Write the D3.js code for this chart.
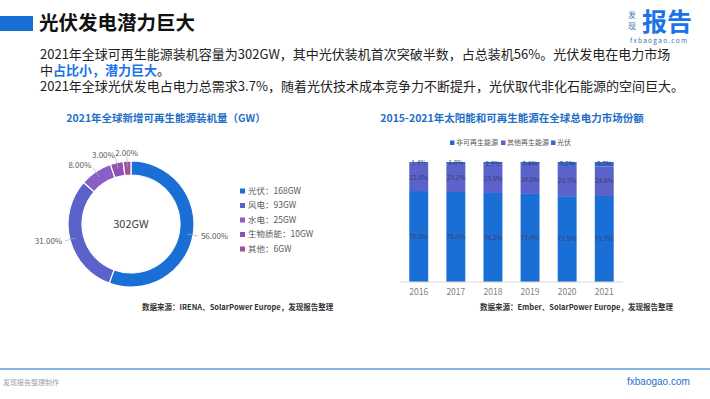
<!DOCTYPE html>
<html>
<head>
<meta charset="utf-8">
<script src="https://cdn.jsdelivr.net/npm/d3@7/dist/d3.min.js"></script>
<style>
  html, body { margin: 0; padding: 0; background: #fff; }
  svg { display: block; font-family: "Noto Sans CJK SC", "Noto Sans", sans-serif; }
</style>
</head>
<body>
<svg width="710" height="399"></svg>
<script>
// ---- data ----
var pieNames = ["光伏", "风电", "水电", "生物质能", "其他"];
var pieValues = [168, 93, 25, 10, 6];
var piePcts = ["56.00%", "31.00%", "8.00%", "3.00%", "2.00%"];
var pieTotal = "302GW";

var years = ["2016", "2017", "2018", "2019", "2020", "2021"];
var seriesNames = ["非可再生能源", "其他再生能源", "光伏"];
var nonRenew = [75.8, 75.0, 74.2, 73.4, 71.5, 71.7];
var otherRenew = [22.8, 23.2, 23.5, 24.0, 25.3, 24.6];
var solar = [1.4, 1.8, 2.3, 2.6, 3.2, 3.7];

var pieColors = ["#1a6fd6", "#5b62c9", "#8a5ec6", "#9150b5", "#a0509f"];
var barColors = ["#1a6fd6", "#5b62c9", "#3566cc"];

var svg = d3.select("svg");

// ---- header ----
svg.append("rect").attr("x", 0).attr("y", 16).attr("width", 33).attr("height", 15).attr("fill", "#1a6fd6");
svg.append("text").attr("x", 39).attr("y", 30).attr("font-size", 19.5).attr("font-weight", 700)
  .attr("fill", "#111").text("光伏发电潜力巨大");

// logo
svg.append("text").attr("x", 628).attr("y", 18).attr("font-size", 8).attr("fill", "#3a6fb0").text("发");
svg.append("text").attr("x", 628).attr("y", 29).attr("font-size", 8).attr("fill", "#3a6fb0").text("现");
svg.append("text").attr("x", 642).attr("y", 31).attr("font-size", 25).attr("font-weight", 700)
  .attr("fill", "#1a73e8").text("报告");
svg.append("text").attr("x", 630).attr("y", 43).attr("font-size", 6.5).attr("letter-spacing", 1.3)
  .attr("fill", "#3a6fb0").text("fxbaogao.com");

// paragraph
var para = svg.append("g").attr("font-size", 13).attr("fill", "#222");
para.append("text").attr("x", 40).attr("y", 59)
  .text("2021年全球可再生能源装机容量为302GW，其中光伏装机首次突破半数，占总装机56%。光伏发电在电力市场");
var l2 = para.append("text").attr("x", 40).attr("y", 75);
l2.append("tspan").text("中");
l2.append("tspan").attr("fill", "#1a73e8").attr("font-weight", 700).text("占比小，潜力巨大");
l2.append("tspan").text("。");
para.append("text").attr("x", 40).attr("y", 91)
  .text("2021年全球光伏发电占电力总需求3.7%，随着光伏技术成本竞争力不断提升，光伏取代非化石能源的空间巨大。");

// ---- donut ----
svg.append("text").attr("x", 166).attr("y", 122).attr("text-anchor", "middle")
  .attr("font-size", 10.5).attr("font-weight", 700).attr("fill", "#1f6fc6")
  .text("2021年全球新增可再生能源装机量（GW）");

var cx = 131, cy = 224, outerR = 63, innerR = 49, labelR = 71;
var pie = d3.pie().sort(null).value(function(d) { return d; });
var arcs = pie(pieValues);
var arc = d3.arc().innerRadius(innerR).outerRadius(outerR);
var donut = svg.append("g").attr("transform", "translate(" + cx + "," + cy + ")");

donut.selectAll("path.slice").data(arcs).enter().append("path")
  .attr("class", "slice")
  .attr("d", arc)
  .attr("fill", function(d, i) { return pieColors[i]; })
  .attr("stroke", "#fff").attr("stroke-width", 1.2);

function mid(d) { return (d.startAngle + d.endAngle) / 2; }
function pt(a, r) { return [Math.sin(a) * r, -Math.cos(a) * r]; }

donut.selectAll("line.lead").data(arcs).enter().append("line")
  .attr("x1", function(d) { return pt(mid(d), outerR - 6)[0]; })
  .attr("y1", function(d) { return pt(mid(d), outerR - 6)[1]; })
  .attr("x2", function(d) { return pt(mid(d), labelR - 3)[0]; })
  .attr("y2", function(d) { return pt(mid(d), labelR - 3)[1]; })
  .attr("stroke", "#b0b0b0").attr("stroke-width", 0.7);

donut.selectAll("text.pct").data(arcs).enter().append("text")
  .attr("x", function(d) { return pt(mid(d), labelR)[0]; })
  .attr("y", function(d) { return pt(mid(d), labelR)[1]; })
  .attr("dy", "0.35em")
  .attr("text-anchor", function(d) {
    var a = mid(d);
    if (a > Math.PI * 1.95) return "middle";
    return a < Math.PI ? "start" : "end";
  })
  .attr("font-size", 8).attr("fill", "#595959")
  .text(function(d, i) { return piePcts[i]; });

donut.append("text").attr("text-anchor", "middle").attr("dy", "0.35em")
  .attr("font-size", 11).attr("fill", "#404040").text(pieTotal);

var leg = svg.append("g").attr("font-size", 8.5).attr("fill", "#595959");
pieNames.forEach(function(n, i) {
  var y = 191 + i * 14.5;
  leg.append("rect").attr("x", 240).attr("y", y - 2.5).attr("width", 5).attr("height", 5).attr("fill", pieColors[i]);
  leg.append("text").attr("x", 248).attr("y", y).attr("dy", "0.35em")
    .text(n + "：" + pieValues[i] + "GW");
});

svg.append("text").attr("x", 142).attr("y", 310).attr("font-size", 7.5).attr("font-weight", 700)
  .attr("fill", "#333").text("数据来源：IRENA、SolarPower Europe，发现报告整理");

// ---- stacked bars ----
svg.append("text").attr("x", 512).attr("y", 122).attr("text-anchor", "middle")
  .attr("font-size", 10.5).attr("font-weight", 700).attr("fill", "#1f6fc6")
  .text("2015-2021年太阳能和可再生能源在全球总电力市场份额");

var rows = years.map(function(y, i) {
  return { year: y, a: nonRenew[i], b: otherRenew[i], c: solar[i] };
});
var stack = d3.stack().keys(["a", "b", "c"]);
var layers = stack(rows);

var x = d3.scaleBand().domain(years).range([400, 623]).paddingInner(0.49).paddingOuter(0.25);
var y = d3.scaleLinear().domain([0, 100]).range([282, 162]);

var bars = svg.append("g");
layers.forEach(function(layer, li) {
  var g = bars.append("g");
  g.selectAll("rect").data(layer).enter().append("rect")
    .attr("x", function(d) { return x(d.data.year); })
    .attr("y", function(d) { return y(d[1]); })
    .attr("width", x.bandwidth())
    .attr("height", function(d) { return y(d[0]) - y(d[1]); })
    .attr("fill", barColors[li]);
  g.selectAll("text").data(layer).enter().append("text")
    .attr("x", function(d) { return x(d.data.year) + x.bandwidth() / 2; })
    .attr("y", function(d) { return (y(d[0]) + y(d[1])) / 2; })
    .attr("dy", "0.35em").attr("text-anchor", "middle")
    .attr("font-size", 6.5).attr("fill", "#3b3f6e")
    .text(function(d) { return (d[1] - d[0]).toFixed(1) + "%"; });
});

var xAxis = svg.append("g").attr("transform", "translate(0,282)")
  .call(d3.axisBottom(x).tickSize(0).tickPadding(7));
xAxis.select(".domain").attr("stroke", "#d9d9d9").attr("d", "M400,0H623");
xAxis.selectAll("text").attr("font-size", 8.5).attr("fill", "#7f7f7f")
  .attr("font-family", "'Noto Sans CJK SC', sans-serif");

var bl = svg.append("g").attr("font-size", 7).attr("fill", "#595959");
var blX = [450, 501, 551];
seriesNames.forEach(function(n, i) {
  bl.append("rect").attr("x", blX[i]).attr("y", 140.5).attr("width", 4.5).attr("height", 4.5).attr("fill", barColors[i]);
  bl.append("text").attr("x", blX[i] + 6).attr("y", 143).attr("dy", "0.35em").text(n);
});

svg.append("text").attr("x", 480).attr("y", 310).attr("font-size", 7.5).attr("font-weight", 700)
  .attr("fill", "#333").text("数据来源：Ember、SolarPower Europe，发现报告整理");

// ---- footer ----
svg.append("line").attr("x1", 0).attr("x2", 710).attr("y1", 369).attr("y2", 369)
  .attr("stroke", "#5b9bd5").attr("stroke-width", 1.5);
svg.append("text").attr("x", 3).attr("y", 385).attr("font-size", 7).attr("fill", "#a0a0a0").text("发现报告整理制作");
svg.append("text").attr("x", 627).attr("y", 385).attr("font-size", 10).attr("fill", "#1f6fc6")
  .attr("font-family", "'Liberation Sans', sans-serif").text("fxbaogao.com");
</script>
</body>
</html>
